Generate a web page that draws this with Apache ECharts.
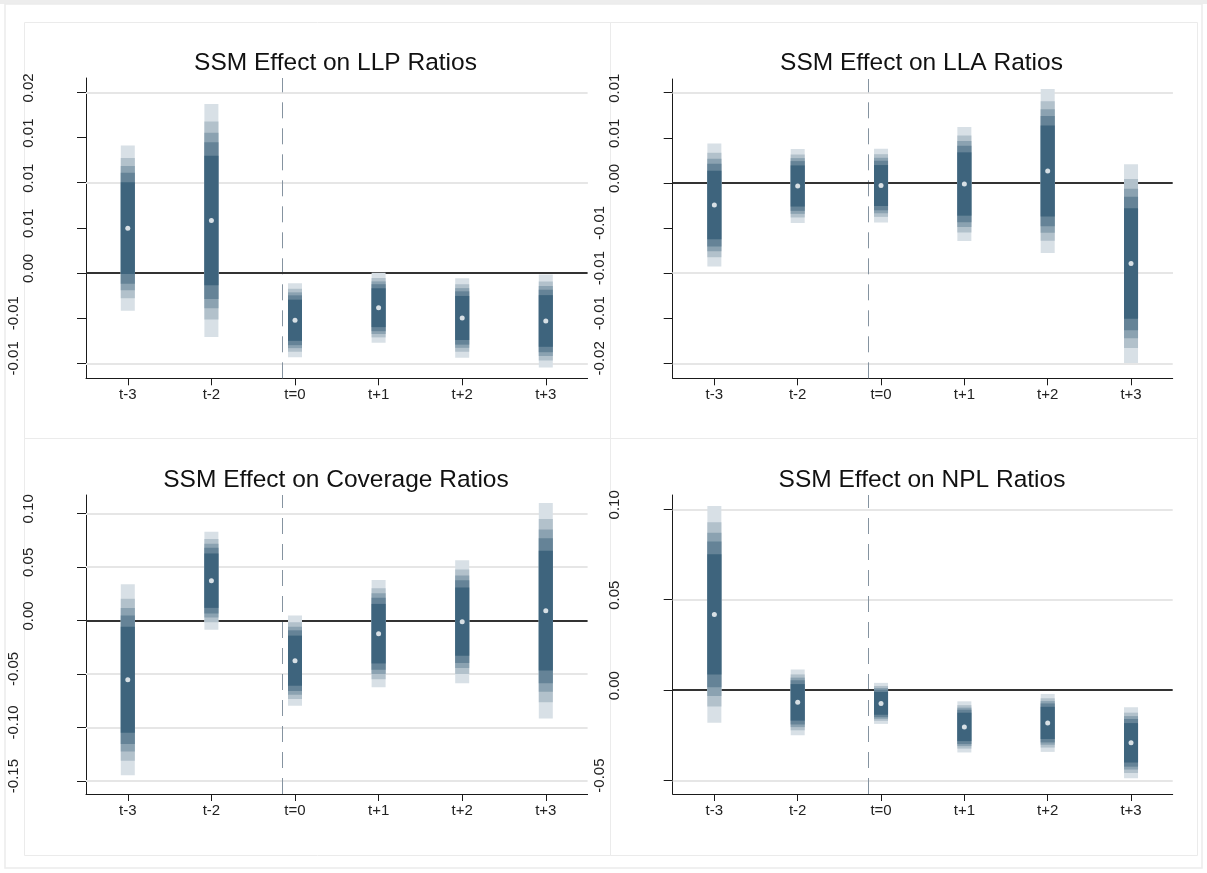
<!DOCTYPE html>
<html><head><meta charset="utf-8">
<script src="https://cdn.jsdelivr.net/npm/echarts@6/dist/echarts.min.js"></script>
<style>html,body{margin:0;padding:0;background:#fff}#c{width:1207px;height:873px}</style>
</head><body><div id="c"></div>
<script>
// ---------- DATA ----------
const periods = ['t-3', 't-2', 't=0', 't+1', 't+2', 't+3'];
const eventLineAt = 1.855; // position of the dashed reference line (category units, t-3 = 0)

// point estimates and half-width of the innermost (darkest) interval
const llpEst  = [0.00497, 0.00581, -0.00523, -0.00384, -0.00498, -0.00531];
const llpHalf = [0.00508, 0.00717, 0.00228, 0.00215, 0.00244, 0.00286];
const llaEst  = [-0.00245, -0.00034, -0.00029, -0.00012, 0.00132, -0.00894];
const llaHalf = [0.00379, 0.00228, 0.00227, 0.00351, 0.00505, 0.00612];
const covEst  = [-0.0554, 0.0371, -0.0376, -0.0124, -0.0012, 0.00906];
const covHalf = [0.0495, 0.0254, 0.0234, 0.0278, 0.0319, 0.0559];
const nplEst  = [0.0419, -0.00674, -0.0073, -0.0203, -0.0181, -0.0291];
const nplHalf = [0.0333, 0.0101, 0.0063, 0.00785, 0.0089, 0.0109];

// relative width of each nested interval band (outermost first)
const bandScale = [1.80, 1.53, 1.355, 1.21, 1.00];

// y tick values and their printed labels
const llpTicks = [-0.01, -0.005, 0, 0.005, 0.01, 0.015, 0.02];
const llpTickLabels = ['-0.01', '-0.01', '0.00', '0.01', '0.01', '0.01', '0.02'];
const llaTicks = [-0.02, -0.015, -0.01, -0.005, 0, 0.005, 0.01];
const llaTickLabels = ['-0.02', '-0.01', '-0.01', '-0.01', '0.00', '0.01', '0.01'];
const covTicks = [-0.15, -0.10, -0.05, 0, 0.05, 0.10];
const covTickLabels = ['-0.15', '-0.10', '-0.05', '0.00', '0.05', '0.10'];
const nplTicks = [-0.05, 0, 0.05, 0.10];
const nplTickLabels = ['-0.05', '0.00', '0.05', '0.10'];

const titles = ['SSM Effect on LLP Ratios', 'SSM Effect on LLA Ratios',
                'SSM Effect on Coverage Ratios', 'SSM Effect on NPL Ratios'];

// ---------- STYLE / LAYOUT ----------
const bandColors = ['#d8e0e6', '#b2c1cb', '#8ba2b1', '#658397', '#3e647d'];
const panels = [
  {est: llpEst, half: llpHalf, ticks: llpTicks, labels: llpTickLabels, min: -0.01166, max: 0.0216,
   grid: {left: 86, top: 78, width: 501.6, height: 300.3}, titleX: 330.5, titleY: 46},
  {est: llaEst, half: llaHalf, ticks: llaTicks, labels: llaTickLabels, min: -0.02166, max: 0.01152,
   grid: {left: 672.7, top: 79, width: 500, height: 299.3}, titleX: 916.5, titleY: 46},
  {est: covEst, half: covHalf, ticks: covTicks, labels: covTickLabels, min: -0.1621, max: 0.1171,
   grid: {left: 86, top: 495, width: 501.6, height: 299}, titleX: 331, titleY: 463},
  {est: nplEst, half: nplHalf, ticks: nplTicks, labels: nplTickLabels, min: -0.0574, max: 0.1079,
   grid: {left: 672.7, top: 495, width: 500, height: 299}, titleX: 917, titleY: 463}
];

const FONT = '"Liberation Sans", Arial, Helvetica, sans-serif';
const axisColor = '#1a1a1a';

const option = {
  animation: false,
  backgroundColor: '#ffffff',
  title: [], grid: [], xAxis: [], yAxis: [], series: [],
  graphic: []
};

panels.forEach((p, k) => {
  option.title.push({
    text: titles[k], left: p.titleX, top: p.titleY, textAlign: 'center',
    textStyle: {fontFamily: FONT, fontSize: 24.5, fontWeight: 'normal', color: '#111'}
  });
  option.grid.push(Object.assign({containLabel: false}, p.grid));
  option.xAxis.push({
    type: 'value', gridIndex: k, min: -0.5, max: 5.5,
    axisLine: {show: true, onZero: false, lineStyle: {color: axisColor, width: 1}},
    axisTick: {show: true, length: 7, customValues: [0, 1, 2, 3, 4, 5], lineStyle: {color: axisColor}},
    axisLabel: {customValues: [0, 1, 2, 3, 4, 5], margin: 9, fontFamily: FONT, fontSize: 15, color: '#222',
      formatter: v => periods[Math.round(v)]},
    splitLine: {show: false}
  });
  option.yAxis.push({
    type: 'value', gridIndex: k, min: p.min, max: p.max,
    axisLine: {show: true, onZero: false, lineStyle: {color: axisColor, width: 1}},
    axisTick: {show: true, length: 9, customValues: p.ticks, lineStyle: {color: axisColor}},
    axisLabel: {customValues: p.ticks, rotate: 90, margin: 50, fontFamily: FONT, fontSize: 15, color: '#222',
      formatter: v => {
        let idx = 0, best = Infinity;
        p.ticks.forEach((t, i) => { const d = Math.abs(t - v); if (d < best) { best = d; idx = i; } });
        const s = p.labels[idx];
        return s.charAt(0) === '-' ? '{neg|' + s + '}' : '{pos|' + s + '}';
      },
      rich: {
        pos: {fontFamily: FONT, fontSize: 15, color: '#222', padding: [0, 0, 0, 9]},
        neg: {fontFamily: FONT, fontSize: 15, color: '#222', padding: [0, 0, 15, 10]}
      }},
    splitLine: {show: false}
  });
  // gridlines, zero line and dashed event line
  const ml = p.ticks.filter(t => t !== 0).map(t => ({yAxis: t, lineStyle: {color: '#e6e6e6', width: 2, type: 'solid'}}));
  ml.push({xAxis: eventLineAt, lineStyle: {color: '#8593a0', width: 1, type: [16, 10]}});
  ml.push({yAxis: 0, lineStyle: {color: '#333333', width: 2, type: 'solid'}});
  option.series.push({
    type: 'line', xAxisIndex: k, yAxisIndex: k, data: [], z: 1, silent: true,
    markLine: {z: 1, silent: true, symbol: ['none', 'none'], label: {show: false}, animation: false, data: ml}
  });
  option.series.push({
    type: 'custom', xAxisIndex: k, yAxisIndex: k, z: 3, silent: true,
    data: p.est.map((e, i) => [i, e, p.half[i]]),
    renderItem: (params, api) => {
      const x = api.value(0), est = api.value(1), hw = api.value(2);
      const bw = 14;
      const children = bandScale.map((s, j) => {
        const a = api.coord([x, est + s * hw]);
        const b = api.coord([x, est - s * hw]);
        return {type: 'rect', shape: {x: a[0] - bw / 2, y: a[1], width: bw, height: b[1] - a[1]},
                style: {fill: bandColors[j]}};
      });
      return {type: 'group', children};
    }
  });
  option.series.push({
    type: 'scatter', xAxisIndex: k, yAxisIndex: k, z: 4, silent: true,
    symbol: 'circle', symbolSize: 5, itemStyle: {color: '#ffffff'},
    data: p.est.map((e, i) => [i, e])
  });
});

// frames
option.graphic.push(
  {type: 'rect', z: -10, shape: {x: 0, y: 0, width: 1207, height: 4}, style: {fill: '#ededed'}},
  {type: 'rect', z: -10, shape: {x: 5, y: 4, width: 1197, height: 864}, style: {fill: 'none', stroke: '#ececec', lineWidth: 1.5}},
  {type: 'rect', z: -10, shape: {x: 24.5, y: 22.5, width: 586, height: 416}, style: {fill: 'none', stroke: '#ebebeb', lineWidth: 1}},
  {type: 'rect', z: -10, shape: {x: 610.5, y: 22.5, width: 587, height: 416}, style: {fill: 'none', stroke: '#ebebeb', lineWidth: 1}},
  {type: 'rect', z: -10, shape: {x: 24.5, y: 438.5, width: 586, height: 417}, style: {fill: 'none', stroke: '#ebebeb', lineWidth: 1}},
  {type: 'rect', z: -10, shape: {x: 610.5, y: 438.5, width: 587, height: 417}, style: {fill: 'none', stroke: '#ebebeb', lineWidth: 1}}
);

const chart = echarts.init(document.getElementById('c'), null, {renderer: 'canvas'});
chart.setOption(option);
</script>
</body></html>
